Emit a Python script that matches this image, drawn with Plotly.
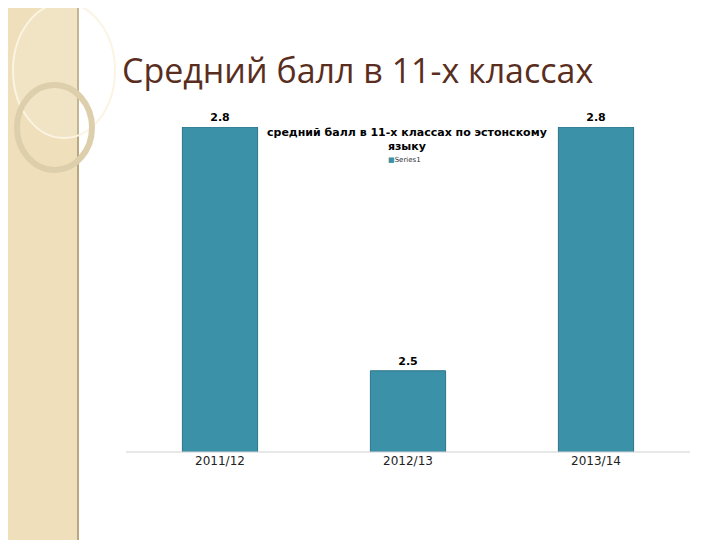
import plotly.graph_objects as go

categories = ["2011/12", "2012/13", "2013/14"]
values = [2.8, 2.5, 2.8]
labels = ["<b>2.8</b>", "<b>2.5</b>", "<b>2.8</b>"]

OFF = 8  # page offset of the rendered figure
W, H = 720, 540
L, R, T, B = 126 - OFF, 30 + OFF, 127 - OFF, 88 + OFF
pw, ph = W - L - R, H - T - B

def px(x): return (x - OFF - L) / pw
def py(y): return (H - B - (y - OFF)) / ph

fig = go.Figure(go.Bar(
    x=categories, y=values, name="Series1",
    marker=dict(color="#3a91a8", line=dict(color="#2d7488", width=1)),
    width=0.4, text=labels, textposition="outside",
    textfont=dict(family="DejaVu Sans", size=11, color="black"),
    cliponaxis=False,
))

shapes = [
    dict(type="rect", xref="paper", yref="paper", x0=px(0), x1=px(78), y0=py(0), y1=py(548),
         fillcolor="#efe0bb", line=dict(width=0), layer="below"),
    dict(type="line", xref="paper", yref="paper", x0=px(78), x1=px(78), y0=py(0), y1=py(548),
         line=dict(color="#b8a880", width=2)),
    dict(type="circle", xref="paper", yref="paper", x0=px(13), x1=px(115), y0=py(3), y1=py(138),
         line=dict(color="#fbf4e2", width=2), fillcolor="rgba(255,255,255,0.15)"),
    dict(type="circle", xref="paper", yref="paper", x0=px(17), x1=px(92), y0=py(85), y1=py(170),
         line=dict(color="#ddcfab", width=6)),
    dict(type="line", xref="paper", yref="paper", x0=0, x1=1, y0=0, y1=0,
         line=dict(color="#d0d0d0", width=1)),
]

fig.update_layout(
    width=W, height=H, margin=dict(l=L, r=R, t=T, b=B),
    paper_bgcolor="white", plot_bgcolor="white",
    showlegend=False, shapes=shapes,
    xaxis=dict(showgrid=False, showline=False, ticks="",
               tickfont=dict(family="DejaVu Sans", size=12, color="#222")),
    yaxis=dict(range=[2.4, 2.8], visible=False),
    annotations=[
        dict(xref="paper", yref="paper", x=px(120), y=py(70), xanchor="left", yanchor="middle",
             text="Средний балл в 11-х классах", showarrow=False,
             font=dict(family="Open Sans", size=34, color="#5a2e1e")),
        dict(xref="paper", yref="paper", x=px(407), y=py(139), xanchor="center", yanchor="middle",
             text="<b>средний балл в 11-х классах по эстонскому<br>языку</b>", showarrow=False,
             font=dict(family="DejaVu Sans", size=11, color="black"), align="center"),
        dict(xref="paper", yref="paper", x=px(386), y=py(160), xanchor="left", yanchor="middle",
             text="<span style='color:#3a91a8'>■</span>Series1", showarrow=False,
             font=dict(family="DejaVu Sans", size=7, color="#333")),
    ],
)
fig.write_html("out.html")
